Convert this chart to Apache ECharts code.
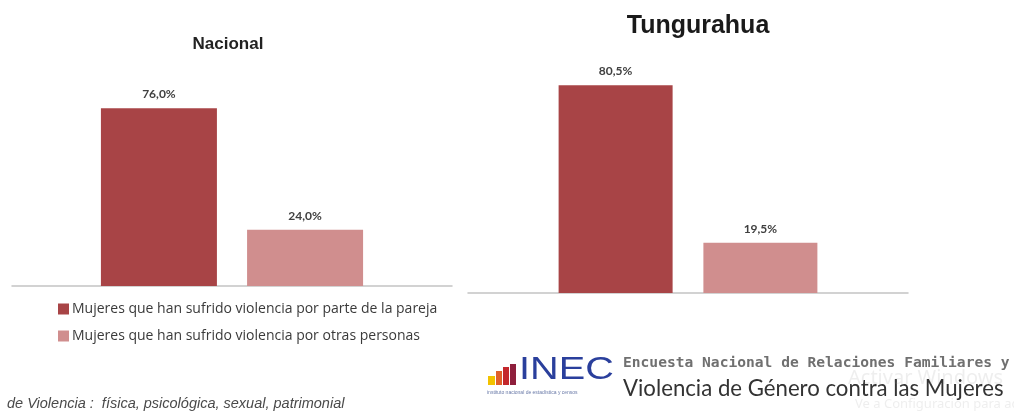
<!DOCTYPE html>
<html>
<head>
<meta charset="utf-8">
<script src="https://cdn.jsdelivr.net/npm/echarts@6/dist/echarts.min.js"></script>
<style>
  html, body { margin: 0; padding: 0; background: #ffffff; }
  #chart { width: 1014px; height: 414px; }
</style>
</head>
<body>
<div id="chart"></div>
<script>
const categories = ['Total'];
const seriesNames = [
  'Mujeres que han sufrido violencia por parte de la pareja',
  'Mujeres que han sufrido violencia por otras personas'
];
const nacionalValues = [76.0, 24.0];
const tungurahuaValues = [80.5, 19.5];
const panelTitles = ['Nacional', 'Tungurahua'];
const barColors = ['#a84446', '#d08e8e'];

const chart = echarts.init(document.getElementById('chart'));

const labelCfg = {
  show: true,
  position: 'top',
  distance: 8,
  fontSize: 12,
  fontWeight: 'bold',
  fontFamily: 'Lato',
  color: '#404040',
  formatter: p => p.value.toFixed(1).replace('.', ',') + '%'
};

function makeSeries(values, axisIdx, width, gap) {
  return values.map((v, i) => ({
    name: seriesNames[i],
    type: 'bar',
    xAxisIndex: axisIdx,
    yAxisIndex: axisIdx,
    data: [v],
    barWidth: width,
    barGap: gap,
    itemStyle: { color: barColors[i] },
    label: labelCfg,
    emphasis: { disabled: true }
  }));
}

const option = {
  animation: false,
  backgroundColor: '#ffffff',
  grid: [
    { left: 12, width: 440, top: 52, height: 234 },
    { left: 468, width: 440, top: 35, height: 258 }
  ],
  xAxis: [0, 1].map(i => ({
    type: 'category',
    gridIndex: i,
    data: categories,
    axisLine: { lineStyle: { color: '#c4c4c4', width: 1.5 } },
    axisTick: { show: false },
    axisLabel: { show: false }
  })),
  yAxis: [0, 1].map(i => ({
    type: 'value',
    gridIndex: i,
    min: 0,
    max: 100,
    show: false,
    splitLine: { show: false }
  })),
  legend: {
    data: seriesNames,
    orient: 'vertical',
    left: 58,
    top: 302,
    padding: 0,
    itemWidth: 11,
    itemHeight: 11,
    itemGap: 13,
    icon: 'rect',
    selectedMode: false,
    textStyle: { fontSize: 14, fontFamily: 'Open Sans', color: '#3a3a3a', padding: [0, 0, 0, -2] }
  },
  series: [
    ...makeSeries(nacionalValues, 0, 116, '26%'),
    ...makeSeries(tungurahuaValues, 1, 114, '27%')
  ],
  graphic: [
    { type: 'text', x: 228, y: 44, style: { text: panelTitles[0], textAlign: 'center', textVerticalAlign: 'middle', fontSize: 17, fontWeight: 'bold', fontFamily: 'Liberation Sans', fill: '#222' } },
    { type: 'text', x: 698, y: 26, style: { text: panelTitles[1], textAlign: 'center', textVerticalAlign: 'middle', fontSize: 25, fontWeight: 'bold', fontFamily: 'Liberation Sans', fill: '#1a1a1a' } },
    { type: 'text', x: 7, y: 404, style: { text: 'de Violencia :  física, psicológica, sexual, patrimonial', textVerticalAlign: 'middle', fontSize: 14.5, fontStyle: 'italic', fontFamily: 'Liberation Sans', fill: '#4a4a4a' } },
    // INEC logo
    { type: 'rect', shape: { x: 488, y: 376, width: 7, height: 9 }, style: { fill: '#f2c200' } },
    { type: 'rect', shape: { x: 496, y: 371, width: 6, height: 14 }, style: { fill: '#e0602a' } },
    { type: 'rect', shape: { x: 503, y: 367, width: 6, height: 18 }, style: { fill: '#c4282c' } },
    { type: 'rect', shape: { x: 510, y: 364, width: 6, height: 21 }, style: { fill: '#8e1f3c' } },
    { type: 'text', x: 519, y: 386, scaleX: 1.28, style: { text: 'INEC', textVerticalAlign: 'bottom', fontSize: 31, fontFamily: 'Liberation Sans', fill: '#2a3f9c' } },
    { type: 'text', x: 487, y: 393, style: { text: 'instituto nacional de estadística y censos', textVerticalAlign: 'middle', fontSize: 5, fontFamily: 'Liberation Sans', fill: '#6a7aa8' } },
    { type: 'text', x: 623, y: 363, style: { text: 'Encuesta Nacional de Relaciones Familiares y', textVerticalAlign: 'middle', fontSize: 14.6, fontWeight: 'bold', fontFamily: 'DejaVu Sans Mono', fill: '#707070' } },
    { type: 'text', x: 623, y: 389, style: { text: 'Violencia de Género contra las Mujeres', textVerticalAlign: 'middle', fontSize: 22.2, fontFamily: 'Lato', fill: '#333333' } },
    // faint watermark
    { type: 'text', x: 848, y: 378, style: { text: 'Activar Windows', textVerticalAlign: 'middle', fontSize: 20, fontFamily: 'Noto Sans', fill: 'rgba(150,150,150,0.16)' } },
    { type: 'text', x: 855, y: 404, style: { text: 'Ve a Configuración para activar Windows', textVerticalAlign: 'middle', fontSize: 13, fontFamily: 'Noto Sans', fill: 'rgba(150,150,150,0.16)' } }
  ]
};

chart.setOption(option);
</script>
</body>
</html>
